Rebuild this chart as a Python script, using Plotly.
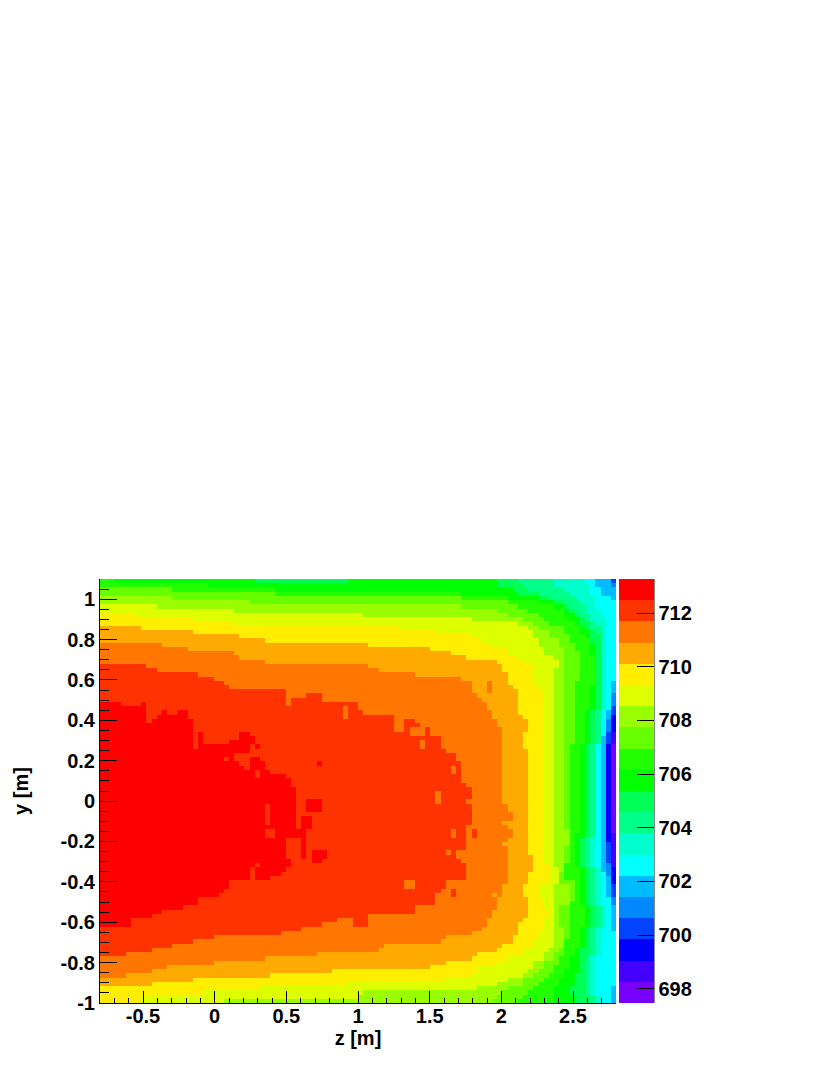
import plotly.graph_objects as go

# Level colours, bottom (1) to top (20) of the palette
LEVEL_COLORS = ["#7700ff","#4400ff","#0000ff","#0044ff","#0088ff","#00bbff","#00ffff","#00ffcc","#00ff88","#00ff55",
                "#00ff00","#22ff00","#66ff00","#99ff00","#ddff00","#ffee00","#ffaa00","#ff7700","#ff3300","#ff0000"]
Z_MIN = 697.47
Z_MAX = 713.27
N_COLS = 100
N_ROWS = 100
X_EDGE = [-0.8, 2.8]
Y_EDGE = [-1.0, 1.1]

# For each level: in every row (top to bottom) the column where the map falls below that level
E20 = [0]*20 + [0,0,0,0,0,0,0,0,0,4, 9,9,17,18,18,18,20,20,20,29, 29,29,31,32,32,33,36,37,37,38,
       38,38,38,38,38,38,41,41,41,40, 40,40,40,40,40,40,38,37,36,35, 33,25,25,24,23,19,19,16,12,10,
       6,6,0,0,0,0,0,0,0,0, 0,0,0,0,0,0,0,0,0,0]
E19 = [0]*20 + [9,11,19,22,24,25,36,43,43,50, 50,51,59,61,62,64,64,66,66,66, 67,69,69,70,70,70,70,70,71,72,
       72,72,71,72,72,72,72,72,71,71, 71,71,71,71,69,69,70,71,71,71, 71,67,67,66,65,65,65,61,61,52,
       52,52,39,35,22,18,14,10,5,0, 0,0,0,0,0,0,0,0,0,0]
E18 = [0]*15 + [12,17,26,27,32, 52,54,61,70,72,72,72,73,74,75, 75,76,76,77,77,78,78,78,78,78, 78,78,78,78,78,78,78,78,78,78,
       78,78,78,79,79,80,80,78,79,80, 80,79,78,79,79,79,79,79,79,79, 79,79,78,78,78,77,77,77,76,76,
       75,75,74,72,67,66,55,54,42,32, 22,13,10,5,0,0,0,0,0,0]
E17 = [0]*10 + [0,8,18,27,32,52,64,68,71,77, 78,78,79,79,79,80,81,81,81,81, 81,81,82,83,83,83,82,82,82,82,
       83,83,83,83,83,83,83,83,83,83, 83,83,83,83,83,83,83,83,83,83, 83,83,83,83,83,84,84,84,84,83,
       83,83,82,82,82,83,83,83,83,83, 82,81,81,81,80,80,78,77,73,72, 67,64,45,33,18,10,0,0,0,0]
E16 = [0,0,0,0,0,0,0,0,7,18, 26,58,65,72,74,76,79,79,81,82, 84,84,84,84,84,85,86,86,86,86,
       86,86,86,86,86,86,86,86,86,86, 86,86,86,86,86,86,86,86,86,86, 86,86,86,86,86,86,86,86,86,86,
       86,86,86,86,86,86,86,87,87,87, 87,87,85,85,85,86,86,86,87,87, 86,86,86,85,85,84,84,82,82,79,
       77,73,73,72,67,48,31,20,8,8]
E15 = [0,0,0,0,0,0,11,26,51,72, 81,83,84,84,85,85,86,86,88,89, 89,88,88,88,88,88,88,88,88,88,
       88,88,88,88,88,88,88,88,88,88, 88,88,88,88,88,88,88,88,88,88, 88,88,88,88,88,88,88,88,88,88,
       88,88,88,88,88,88,88,88,89,89, 89,89,88,88,88,88,88,88,88,88, 88,88,88,88,88,88,88,87,86,86,
       84,84,83,82,79,77,73,51,50,24]
E14 = [0,0,0,0,14,29,70,77,79,82, 84,85,87,87,89,89,90,90,90,90, 90,90,90,90,90,90,90,90,90,90,
       90,90,90,90,90,90,90,90,90,90, 90,90,90,90,90,90,90,90,90,90, 90,90,90,90,90,90,90,90,90,91,
       91,91,91,90,90,90,90,90,90,89, 89,89,91,91,91,91,91,89,89,89, 89,89,90,90,90,90,90,89,88,88,
       86,86,85,84,82,82,79,78,77,76]
E13 = [0,0,14,34,70,79,81,83,85,86, 87,90,90,91,91,92,92,93,93,93, 93,93,93,93,92,92,92,92,92,92,
       92,92,92,92,92,92,92,92,92,91, 91,91,91,91,91,91,91,91,91,91, 91,91,91,91,91,91,91,91,91,91,
       91,91,91,91,91,91,91,90,90,90, 90,92,92,92,92,92,91,91,91,91, 91,91,91,91,91,90,90,90,90,89,
       89,88,88,87,86,85,84,83,82,81]
E12 = [3,21,34,70,79,85,88,90,90,91, 92,93,93,94,95,95,95,95,96,96, 96,96,96,96,96,95,95,95,95,95,
       95,94,94,94,94,94,94,94,94,93, 93,93,93,93,93,93,93,93,93,93, 93,93,93,93,93,93,93,93,93,93,
       92,92,92,92,92,92,92,92,93,93, 93,93,93,93,93,93,93,94,94,94, 94,94,93,93,93,93,93,92,92,91,
       91,91,90,90,89,89,88,88,88,88]
E11 = [30,77,80,81,85,88,90,91,92,93, 93,94,95,95,95,96,96,96,96,96, 96,96,96,96,96,96,96,96,96,96,
       96,95,95,95,95,95,95,95,95,94, 94,94,94,94,94,94,94,94,94,94, 94,94,94,94,94,94,94,94,94,94,
       94,93,93,93,93,93,93,93,94,94, 94,94,94,94,94,94,94,95,95,95, 95,95,94,94,94,94,94,93,93,93,
       93,93,93,92,92,92,91,91,92,92]
E10 = [81,82,83,85,87,90,91,92,93,94, 95,95,96,97,97,97,97,97,97,97, 97,97,97,97,97,97,97,97,97,97,
       97,96,96,96,96,96,96,96,96,95, 95,95,95,95,95,95,95,95,95,95, 95,95,95,95,95,95,95,95,95,95,
       95,94,94,94,94,94,94,94,95,95, 95,95,95,95,95,95,95,96,96,96, 96,96,95,95,95,95,95,95,95,94,
       94,94,94,94,94,94,94,94,95,95]
E9 = [88,88,90,91,92,93,94,94,95,95, 96,97,97,97,97,97,97,97,97,97, 97,97,97,97,97,97,97,97,97,97,
      97,97,97,97,97,97,97,97,97,96, 96,96,96,96,96,96,96,96,96,96, 96,96,96,96,96,96,96,96,96,96,
      96,95,95,95,95,95,95,95,96,96, 96,96,96,96,96,96,96,97,97,97, 97,97,96,96,96,96,96,96,96,95,
      95,95,95,95,95,95,95,95,96,96]
E8 = [94,95,95,95,96,96,96,97,97,98, 98,98,98,98,98,98,98,98,98,98, 98,98,98,98,98,98,98,98,98,98,
      98,97,97,97,97,97,97,97,97,96, 96,96,96,96,96,96,96,96,96,96, 96,96,96,96,96,96,96,96,96,96,
      96,96,96,96,96,96,96,96,97,97, 97,97,97,97,97,97,97,98,98,98, 98,98,97,97,97,97,97,97,97,96,
      96,96,96,96,96,96,96,96,97,97]
E7 = [96,96,97,97,98,98,98,98,98,98] + [98]*20 + [98,98,98,98,98,98,98,97,97,97] + [97]*20 + \
     [97,97,97,97,97,97,97,97,97,98] + [98]*30
# Levels in the last two columns
COL98 = [6,6,6,6,7,7,7,7,7,7, 7,7,7,7,7,7,7,7,7,7, 7,7,7,7,7,7,7,7,7,7, 7,6,6,5,5,5,4,4,4,3,
         3,3,3,3,3,3,3,3,3,3, 3,3,3,3,3,3,3,3,3,3, 3,3,4,4,4,4,4,5,5,5, 6,6,6,6,6,7,7,7,7,7,
         7,7,7,7,7,7,7,7,7,7, 7,7,7,7,7,7,7,7,7,7]
COL99 = [4,5,6,6,6,7,7,7,7,7, 7,7,7,7,7,7,7,7,7,7, 7,7,7,7,6,6,6,5,5,5, 4,4,3,3,3,3,2,2,2,1,
         1,1,1,1,1,1,1,1,1,1, 1,1,1,1,1,1,1,1,1,1, 2,2,2,2,2,2,2,2,3,3, 3,3,4,4,4,5,5,6,6,6,
         6,6,6,7,7,7,7,7,7,7, 7,7,7,7,7,7,6,6,6,6]
# Single deviating patches: row, first column, last column (inclusive), level
PATCHES = [
    (0,48,76,11),(29,8,8,20),(31,12,12,20),(31,15,16,20),(32,9,10,19),(33,9,9,19),(34,18,18,19),(35,18,18,19),
    (36,18,18,19),(37,18,18,19),(38,18,18,19),(39,18,18,19),(36,27,28,20),(37,27,29,20),(38,25,29,20),
    (39,30,30,20),(41,26,28,19),(42,24,24,19),(42,26,28,19),(43,27,28,19),(44,28,28,19),(45,30,30,19),(46,30,30,19),
    (43,42,42,20),(52,40,42,20),(53,40,42,20),(54,40,42,20),(53,32,32,19),(54,32,32,19),(55,32,32,19),(56,32,32,19),
    (57,32,32,19),(59,32,33,19),(60,32,33,19),(61,36,38,19),(62,36,38,19),(63,36,38,19),(64,36,38,19),(65,36,38,19),
    (66,37,37,19),(67,37,37,19),(56,38,38,19),(57,38,38,19),(58,38,38,19),(64,41,43,20),(65,41,43,20),(66,41,42,20),
    (67,30,30,19),(68,29,29,19),(69,29,29,19),(70,29,29,19),
    (27,36,39,18),(28,36,36,18),(29,36,36,18),(30,47,47,18),(31,47,47,18),(32,47,47,18),
    (32,57,58,18),(33,57,58,18),(34,57,58,18),(35,57,58,18),(35,60,62,18),(36,60,62,18),(38,62,62,18),(39,62,62,18),
    (44,68,68,18),(45,68,68,18),(50,65,65,18),(51,65,65,18),(52,65,65,18),(59,68,68,18),(60,68,68,18),(64,67,67,18),
    (71,59,60,18),(72,59,60,18),(59,72,72,19),(60,72,72,19),(73,68,68,19),(74,68,68,19),(24,75,75,18),(25,75,75,18),
    (26,75,75,18),(74,76,76,17),(80,46,48,18),(81,43,48,18),
]

VALUE_STEP = (Z_MAX - Z_MIN) / 20
EDGES = {20:E20,19:E19,18:E18,17:E17,16:E16,15:E15,14:E14,13:E13,12:E12,11:E11,10:E10,9:E9,8:E8,7:E7}
assert all(len(v) == N_ROWS for v in list(EDGES.values()) + [COL98, COL99])

levels = []
for r in range(N_ROWS):
    row = []
    for c in range(N_COLS):
        if c == 98:
            row.append(COL98[r]); continue
        if c == 99:
            row.append(COL99[r]); continue
        lv = 6
        for k in range(20, 6, -1):
            if c < EDGES[k][r]:
                lv = k
                break
        row.append(lv)
    levels.append(row)
for r, c0, c1, lv in PATCHES:
    for c in range(c0, c1 + 1):
        levels[r][c] = lv

z = [[Z_MIN + (lv - 0.5) * VALUE_STEP for lv in row] for row in levels]
dx = (X_EDGE[1] - X_EDGE[0]) / N_COLS
dy = (Y_EDGE[1] - Y_EDGE[0]) / N_ROWS
xs = [X_EDGE[0] + (i + 0.5) * dx for i in range(N_COLS)]
ys = [Y_EDGE[1] - (i + 0.5) * dy for i in range(N_ROWS)]

colorscale = []
for i, col in enumerate(LEVEL_COLORS):
    colorscale += [[i / 20, col], [(i + 1) / 20, col]]

FONT = "Liberation Sans"
FS = 20
XTICKS = [-0.5, 0, 0.5, 1, 1.5, 2, 2.5]
XLABELS = ["-0.5", "0", "0.5", "1", "1.5", "2", "2.5"]
YTICKS = [-1, -0.8, -0.6, -0.4, -0.2, 0, 0.2, 0.4, 0.6, 0.8, 1]
YLABELS = ["-1", "-0.8", "-0.6", "-0.4", "-0.2", "0", "0.2", "0.4", "0.6", "0.8", "1"]
CTICKS = [698, 700, 702, 704, 706, 708, 710, 712]

fig = go.Figure(go.Heatmap(
    x=xs, y=ys, z=z, zmin=Z_MIN, zmax=Z_MAX, colorscale=colorscale, zsmooth=False,
    colorbar=dict(
        x=1.006, xanchor="left", xref="paper", y=0.5, yanchor="middle", len=1, lenmode="fraction",
        thickness=35, thicknessmode="pixels", xpad=0, ypad=0,
        outlinewidth=0, ticks="inside", ticklen=17, tickcolor="black", tickwidth=1,
        tickvals=CTICKS, ticktext=[str(t) for t in CTICKS],
        tickfont=dict(family=FONT, size=FS, color="black", weight="bold"),
    ),
))
# the page has an 8 px body margin, so the figure is placed 8 px up and left of the target position
fig.update_layout(
    width=822, height=1067, margin=dict(l=92, r=214, t=571, b=72, pad=0, autoexpand=False),
    paper_bgcolor="white", plot_bgcolor="white", showlegend=False,
    xaxis=dict(range=X_EDGE, showgrid=False, zeroline=False, showline=True, linecolor="black", linewidth=1,
               ticks="inside", ticklen=12, tickcolor="black", tickwidth=1, tickvals=XTICKS, ticktext=XLABELS,
               ticklabelstandoff=-5,
               minor=dict(ticks="inside", ticklen=5, dtick=0.1, tick0=0, tickcolor="black", showgrid=False),
               tickfont=dict(family=FONT, size=FS, color="black", weight="bold"),
               title=dict(text="<b>z [m]</b>", font=dict(family=FONT, size=FS, color="black"), standoff=4)),
    yaxis=dict(range=Y_EDGE, showgrid=False, zeroline=False, showline=True, linecolor="black", linewidth=1,
               ticks="inside", ticklen=17, tickcolor="black", tickwidth=1, tickvals=YTICKS, ticktext=YLABELS,
               minor=dict(ticks="inside", ticklen=9, dtick=0.05, tick0=0, tickcolor="black", showgrid=False),
               tickfont=dict(family=FONT, size=FS, color="black", weight="bold"),
               title=dict(text="<b>y [m]</b>", font=dict(family=FONT, size=FS, color="black"), standoff=26)),
    shapes=[dict(type="line", xref="paper", yref="paper", x0=1.0736, x1=1.0736, y0=0, y1=1,
                 line=dict(color="black", width=1))],
)
fig.write_html("out.html")
